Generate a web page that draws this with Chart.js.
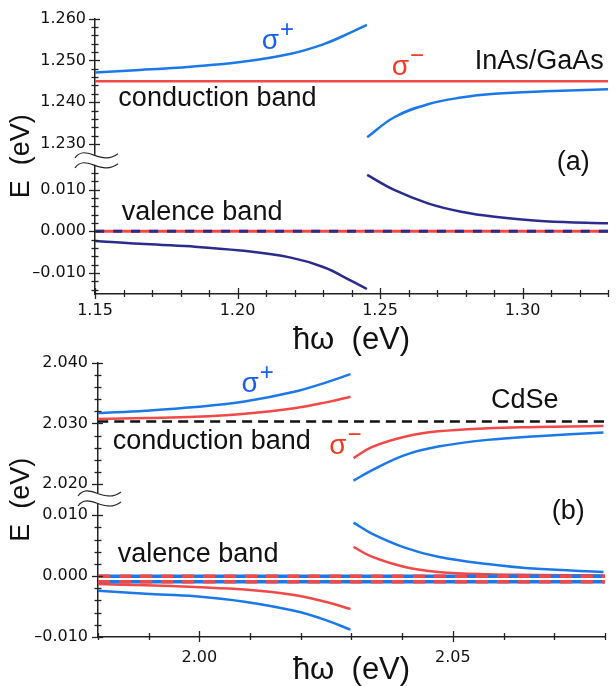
<!DOCTYPE html>
<html lang="en">
<head>
<meta charset="UTF-8">
<title>Dressed band edges</title>
<style>
  body { margin: 0; background: #fff; }
  .panel { position: absolute; left: 0; width: 616px; }
  #panelA { top: 0; height: 356px; }
  #panelB { top: 343px; height: 343px; }
</style>
</head>
<body>
<div class="panel" id="panelA"><canvas id="chartA" width="616" height="356"></canvas></div>
<div class="panel" id="panelB"><canvas id="chartB" width="616" height="343"></canvas></div>
<script src="https://cdn.jsdelivr.net/npm/chart.js"></script>
<script>
// ---------- panel (a): InAs/GaAs ----------
const aXLeft = [1.15, 1.1658, 1.1835, 1.2011, 1.2187, 1.2303, 1.2398, 1.2454];
const aPlusLeft = [1.2471, 1.2477, 1.2485, 1.2496, 1.2516, 1.2539, 1.2567, 1.2585];
const aValLeft = [-0.0023, -0.0030, -0.0036, -0.0046, -0.0063, -0.0086, -0.0118, -0.0138];
const aXRight = [1.2455, 1.2550, 1.2668, 1.2785, 1.2902, 1.3078, 1.3306];
const aPlusRight = [1.2316, 1.2364, 1.2395, 1.2411, 1.2420, 1.2426, 1.2431];
const aValRight = [0.0135, 0.0099, 0.0067, 0.0047, 0.0035, 0.0024, 0.0019];
const aMinusLevel = 1.245;
const aValenceLevel = 0.000;
const aXRange = [1.15, 1.33];
const aYTicksUpper = [1.230, 1.260];   // labelled every 0.010, minor every 0.002
const aYTicksLower = [-0.014, 0.014];
const aShift = 1.2091;                 // upper part of the broken axis is shifted down by this

// ---------- panel (b): CdSe ----------
const bXLeft = [1.98, 1.9894, 1.9992, 2.0089, 2.0187, 2.0252, 2.0298];
const bPlusUpLeft = [2.0317, 2.0321, 2.0327, 2.0336, 2.0352, 2.0368, 2.0381];
const bMinusUpLeft = [2.03075, 2.0309, 2.0311, 2.0316, 2.0325, 2.0335, 2.0344];
const bMinusLowLeft = [-0.0013, -0.0015, -0.0018, -0.0022, -0.0031, -0.0043, -0.0054];
const bPlusLowLeft = [-0.0024, -0.0029, -0.0033, -0.0042, -0.0057, -0.0073, -0.0088];
const bXRight = [2.0304, 2.0340, 2.0405, 2.0471, 2.0568, 2.0666, 2.0797];
const bMinusUpRight = [2.0243, 2.0261, 2.0278, 2.0287, 2.0292, 2.0294, 2.0296];
const bPlusUpRight = [2.0206, 2.0223, 2.0248, 2.0262, 2.0273, 2.0279, 2.0285];
const bPlusLowRight = [0.0088, 0.0070, 0.0047, 0.0032, 0.0020, 0.0012, 0.0007];
const bMinusLowRight = [0.0048, 0.0032, 0.0015, 0.0007, 0.0003, 0.0002, 0.0001];
const bConductionLevel = 2.0303;
const bValenceLevels = [0.000, -0.0009];
const bXRange = [1.98, 2.08];
const bYTicksUpper = [2.020, 2.040];
const bYTicksLower = [-0.010, 0.010];
const bShift = 2.0049;

const BLUE = '#1b78e8', RED = '#f24848', NAVY = '#2b2b8e';
const TEXT_FONT = "'Liberation Sans', Arial, sans-serif";
Chart.defaults.font.family = "'DejaVu Sans', sans-serif";
Chart.defaults.color = '#111';

function pts(xs, es, shift) {
  return xs.map((x, i) => ({ x: x, y: es[i] > 0.5 ? es[i] - shift : es[i] }));
}
function flat(range, e, shift) {
  return pts(range, [e, e], shift);
}
function line(data, color, extra) {
  return Object.assign({ data: data, borderColor: color, borderWidth: 2.5, pointRadius: 0,
    fill: false, tension: 0.4 }, extra || {});
}
function stepList(lo, hi, step) {
  const out = [];
  for (let k = Math.round(lo / step); k <= Math.round(hi / step) + 1e-9; k++) out.push(+(k * step).toFixed(4));
  return out;
}
function isMajor(v, unit) {
  return Math.abs(v / unit - Math.round(v / unit)) < 1e-6;
}

// tick marks crossing the axes and the axis break symbol
const axisDecor = {
  id: 'axisDecor',
  afterDraw(chart, args, o) {
    const ctx = chart.ctx, area = chart.chartArea;
    const xs = chart.scales.x, ys = chart.scales.y;
    ctx.save();
    ctx.strokeStyle = '#222';
    ctx.lineWidth = 1.3;
    ys.ticks.forEach(t => {
      const p = Math.round(ys.getPixelForValue(t.value)) + 0.5;
      const major = t.label !== '';
      ctx.beginPath();
      ctx.moveTo(area.left - (major ? 6 : 3.5), p);
      ctx.lineTo(area.left + (major ? 5 : 3.5), p);
      ctx.stroke();
    });
    xs.ticks.forEach(t => {
      const p = Math.round(xs.getPixelForValue(t.value)) + 0.5;
      const major = t.label !== '';
      ctx.beginPath();
      ctx.moveTo(p, area.bottom + (major ? 5 : 3));
      ctx.lineTo(p, area.bottom - (major ? 6 : 4));
      ctx.stroke();
    });
    const yb = ys.getPixelForValue(o.breakAt);
    ctx.fillStyle = '#fff';
    ctx.fillRect(area.left - 3, yb - 5, 6, 10);
    ctx.lineWidth = 1.2;
    [yb - 5, yb + 5].forEach(y => {
      const x0 = area.left - 20, w = 43;
      ctx.beginPath();
      ctx.moveTo(x0, y + 3);
      ctx.bezierCurveTo(x0 + w * 0.25, y - 12, x0 + w * 0.6, y + 12, x0 + w, y - 1);
      ctx.stroke();
    });
    ctx.restore();
  }
};

// text labels placed in data coordinates
const notes = {
  id: 'notes',
  afterDraw(chart, args, o) {
    const ctx = chart.ctx;
    const xs = chart.scales.x, ys = chart.scales.y;
    ctx.save();
    ctx.textBaseline = 'alphabetic';
    o.items.forEach(n => {
      const px = xs.getPixelForValue(n.x);
      const py = ys.getPixelForValue(n.y > 0.5 ? n.y - o.shift : n.y);
      ctx.font = (n.size || 27) + 'px ' + TEXT_FONT;
      ctx.fillStyle = n.color || '#111';
      ctx.textAlign = n.align || 'left';
      ctx.fillText(n.text, px, py);
      if (n.sup) {
        const w = ctx.measureText(n.text).width;
        ctx.font = '24px ' + TEXT_FONT;
        ctx.textAlign = 'left';
        ctx.fillText(n.sup, px + w + 1, py - 12);
      }
    });
    ctx.restore();
  }
};

function makeChart(id, cfg) {
  const shift = cfg.shift;
  const yTicks = stepList(cfg.yLower[0], cfg.yLower[1], 0.002)
    .concat(stepList(cfg.yUpper[0], cfg.yUpper[1], 0.002).map(e => +(e - shift).toFixed(5)));
  const xTicks = stepList(cfg.xRange[0], cfg.xRange[1], 0.01);
  return new Chart(document.getElementById(id), {
    type: 'line',
    // Chart.js paints dataset 0 last, so reverse to keep the listed order bottom-to-top
    data: { datasets: cfg.datasets.slice().reverse() },
    options: {
      responsive: false,
      animation: false,
      events: [],
      layout: { padding: cfg.padding },
      plugins: { legend: { display: false }, tooltip: { enabled: false },
        axisDecor: { breakAt: cfg.breakAt }, notes: { items: cfg.notes, shift: shift } },
      scales: {
        x: {
          type: 'linear', min: cfg.xRange[0], max: cfg.xRange[1],
          grid: { display: false, drawTicks: false },
          border: { display: true, color: '#222', width: 1.5 },
          afterBuildTicks: s => { s.ticks = xTicks.map(v => ({ value: v })); },
          afterFit: s => { s.height = cfg.xHeight; },
          ticks: { padding: cfg.xPad, maxRotation: 0, autoSkip: false, font: { size: 16 },
            callback: v => isMajor(v, 0.05) ? v.toFixed(2) : '' },
          title: { display: true, text: 'ħω  (eV)', font: { family: TEXT_FONT, size: 31, lineHeight: 1 },
            color: '#111', padding: { top: 0, bottom: 0 } }
        },
        y: {
          type: 'linear', min: cfg.yMin, max: cfg.yMax,
          grid: { display: false, drawTicks: false },
          border: { display: true, color: '#222', width: 1.5 },
          afterBuildTicks: s => { s.ticks = yTicks.map(v => ({ value: v })); },
          afterFit: s => { s.width = cfg.yWidth; },
          ticks: { padding: cfg.yPad, autoSkip: false, font: { size: 16 },
            callback: v => {
              const e = v > cfg.breakAt ? v + shift : v;
              if (!isMajor(e, 0.01)) return '';
              const s = Math.abs(e).toFixed(3);
              return e < -1e-9 ? '–' + s : s;
            } },
          title: { display: true, text: 'E  (eV)', font: { family: TEXT_FONT, size: 27, lineHeight: 1 },
            color: '#111', padding: { top: 8, bottom: 0 } }
        }
      }
    },
    plugins: [axisDecor, notes]
  });
}

makeChart('chartA', {
  shift: aShift, xRange: aXRange, yMin: -0.015, yMax: 1.260 - aShift,
  yLower: aYTicksLower, yUpper: aYTicksUpper, breakAt: 0.0171,
  padding: { top: 16, right: 8, left: 0, bottom: 0 },
  xHeight: 62, yWidth: 95, xPad: 7, yPad: 9,
  datasets: [
    line(flat(aXRange, aMinusLevel, aShift), RED),
    line(pts(aXLeft, aPlusLeft, aShift), BLUE),
    line(pts(aXRight, aPlusRight, aShift), BLUE),
    line(pts(aXLeft, aValLeft, aShift), NAVY),
    line(pts(aXRight, aValRight, aShift), NAVY),
    line(flat(aXRange, aValenceLevel, aShift), RED, { borderWidth: 3 }),
    line(flat(aXRange, aValenceLevel, aShift), NAVY, { borderWidth: 3, borderDash: [9, 9] })
  ],
  notes: [
    { text: 'σ', sup: '+', x: 1.2085, y: 1.2527, color: '#1660ee', size: 28 },
    { text: 'σ', sup: '−', x: 1.2541, y: 1.2466, color: '#f2391e', size: 28 },
    { text: 'InAs/GaAs', x: 1.3285, y: 1.2480, align: 'right' },
    { text: 'conduction band', x: 1.1582, y: 1.2391 },
    { text: 'valence band', x: 1.1594, y: 0.00265 },
    { text: '(a)', x: 1.3236, y: 0.0146, align: 'right' }
  ]
});

makeChart('chartB', {
  shift: bShift, xRange: bXRange, yMin: -0.010, yMax: 2.040 - bShift,
  yLower: bYTicksLower, yUpper: bYTicksUpper, breakAt: 0.01285,
  padding: { top: 13.7, right: 9, left: 0, bottom: 0 },
  xHeight: 49, yWidth: 98, xPad: 11, yPad: 10,
  datasets: [
    line(flat(bXRange, bConductionLevel, bShift), '#111', { borderDash: [10, 6] }),
    line(pts(bXLeft, bPlusUpLeft, bShift), BLUE),
    line(pts(bXLeft, bMinusUpLeft, bShift), RED),
    line(pts(bXRight, bMinusUpRight, bShift), RED),
    line(pts(bXRight, bPlusUpRight, bShift), BLUE),
    line(pts(bXLeft, bMinusLowLeft, bShift), RED),
    line(pts(bXLeft, bPlusLowLeft, bShift), BLUE),
    line(pts(bXRight, bPlusLowRight, bShift), BLUE),
    line(pts(bXRight, bMinusLowRight, bShift), RED),
    line(flat(bXRange, bValenceLevels[0], bShift), BLUE, { borderWidth: 3.5 }),
    line(flat(bXRange, bValenceLevels[0], bShift), RED, { borderWidth: 3.5, borderDash: [12, 9] }),
    line(flat(bXRange, bValenceLevels[1], bShift), BLUE, { borderWidth: 3.5 }),
    line(flat(bXRange, bValenceLevels[1], bShift), RED, { borderWidth: 3.5, borderDash: [12, 9] })
  ],
  notes: [
    { text: 'σ', sup: '+', x: 2.0083, y: 2.0352, color: '#1660ee', size: 28 },
    { text: 'σ', sup: '−', x: 2.0256, y: 2.0250, color: '#f2391e', size: 28 },
    { text: 'CdSe', x: 2.0575, y: 2.0326 },
    { text: 'conduction band', x: 1.9829, y: 2.0258 },
    { text: 'valence band', x: 1.9839, y: 0.0023 },
    { text: '(b)', x: 2.0760, y: 0.0094, align: 'right' }
  ]
});
</script>
</body>
</html>
